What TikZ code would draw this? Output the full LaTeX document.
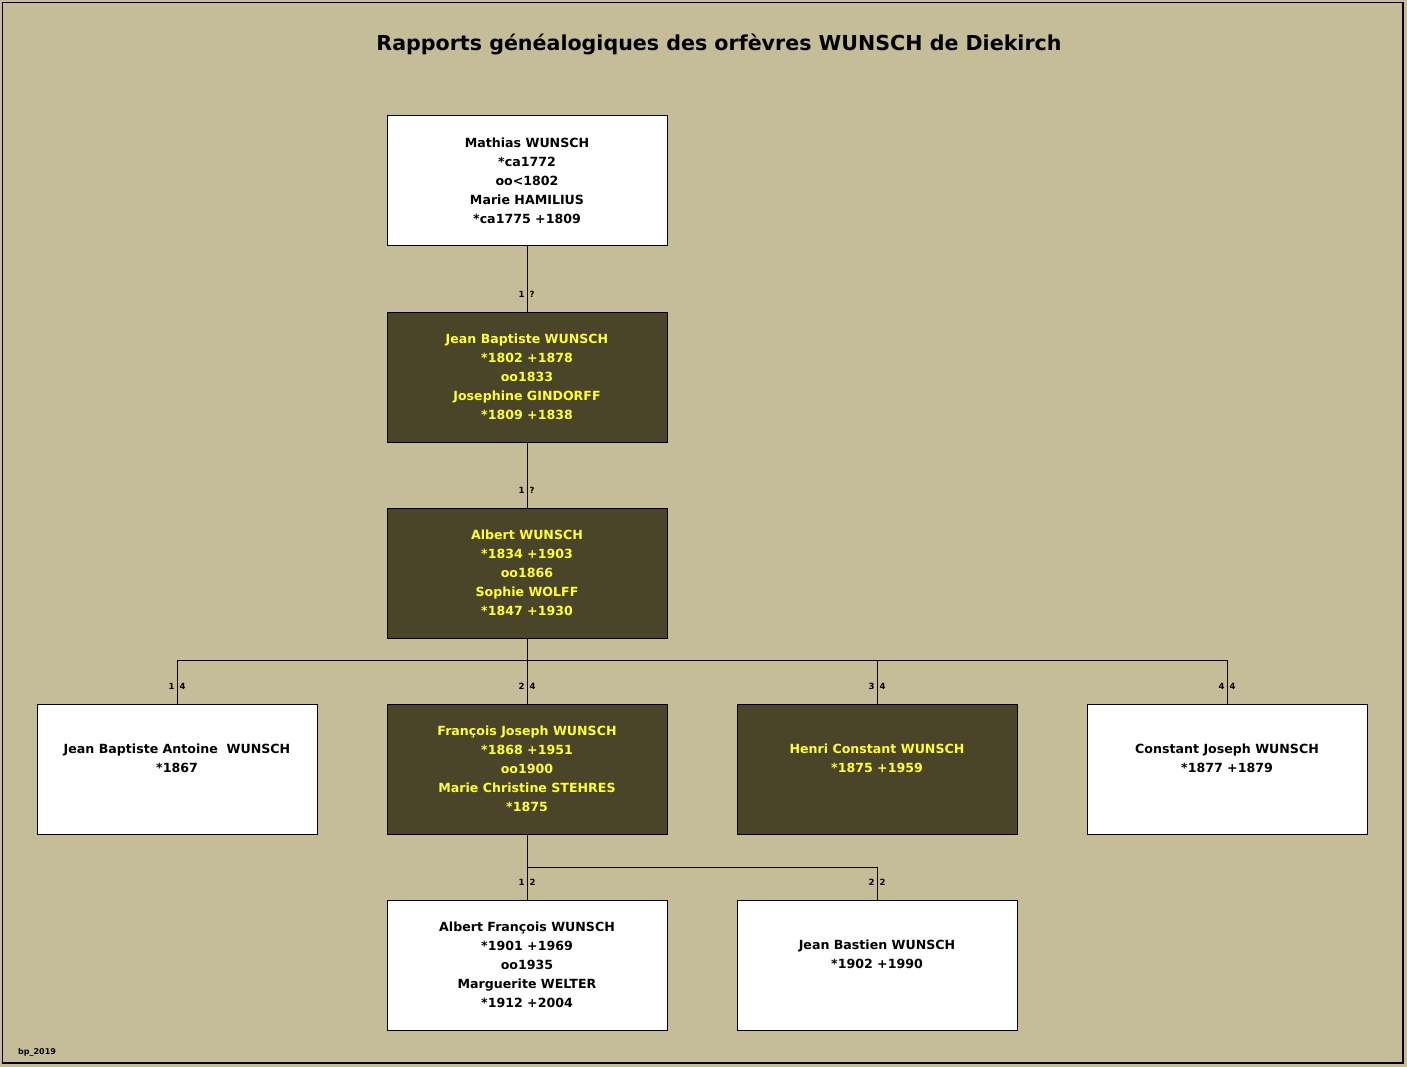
\documentclass[tikz,border=0pt]{standalone}
\usepackage{fontspec}
\setmainfont{DejaVu Sans}
\definecolor{bgtan}{HTML}{C5BD98}
\definecolor{darkbox}{HTML}{4A4429}
\definecolor{ytext}{HTML}{FFFF33}
\begin{document}
\begin{tikzpicture}[x=1pt,y=-1pt,
  wbox/.style={draw=black,line width=1pt,fill=white,minimum width=280pt,minimum height=130pt,inner sep=0pt,align=center,font=\bfseries\fontsize{12.6}{19}\selectfont,text=black},
  dbox/.style={wbox,fill=darkbox,text=ytext},
  lbl/.style={font=\bfseries\fontsize{8.5}{9}\selectfont,inner sep=2pt},
  conn/.style={draw=black,line width=1pt}]
\path[fill=bgtan] (0,0) rectangle (1407,1067);
\useasboundingbox (0,0) rectangle (1407,1067);
\draw[line width=1.2pt] (2.5,2.5) rectangle (1403,1063);
\node[font=\bfseries\fontsize{20.6}{24}\selectfont] (title) at (719,44) {Rapports généalogiques des orfèvres WUNSCH de Diekirch};
\node[font=\bfseries\fontsize{8}{9}\selectfont,anchor=west,inner sep=0pt] (bp) at (18,1052) {bp\_2019};

\node[wbox] (m) at (527,181) {Mathias WUNSCH\\*ca1772\\oo<1802\\Marie HAMILIUS\\*ca1775 +1809};
\node[dbox] (jb) at (527,377) {Jean Baptiste WUNSCH\\*1802 +1878\\oo1833\\Josephine GINDORFF\\*1809 +1838};
\node[dbox] (al) at (527,573) {Albert WUNSCH\\*1834 +1903\\oo1866\\Sophie WOLFF\\*1847 +1930};
\node[wbox] (c1) at (177,769) {Jean Baptiste Antoine\ \ WUNSCH\\*1867\\[-4pt]\strut};
\node[dbox] (c2) at (527,769) {François Joseph WUNSCH\\*1868 +1951\\oo1900\\Marie Christine STEHRES\\*1875};
\node[dbox] (c3) at (877,769) {Henri Constant WUNSCH\\*1875 +1959\\[-4pt]\strut};
\node[wbox] (c4) at (1227,769) {Constant Joseph WUNSCH\\*1877 +1879\\[-4pt]\strut};
\node[wbox] (g1) at (527,965) {Albert François WUNSCH\\*1901 +1969\\oo1935\\Marguerite WELTER\\*1912 +2004};
\node[wbox] (g2) at (877,965) {Jean Bastien WUNSCH\\*1902 +1990\\[-4pt]\strut};

\draw[conn] (m.south) -- (jb.north) node[pos=0.74,lbl,left]{1} node[pos=0.74,lbl,right]{?};
\draw[conn] (jb.south) -- (al.north) node[pos=0.74,lbl,left]{1} node[pos=0.74,lbl,right]{?};

\coordinate (bus) at (527,660);
\draw[conn] (al.south) -- (bus);
\draw[conn] (bus -| c1.north) -- (bus -| c4.north);
\foreach \n/\k in {c1/1,c2/2,c3/3,c4/4}{
  \draw[conn] (bus -| \n.north) -- (\n.north) node[pos=0.6,lbl,left]{\k} node[pos=0.6,lbl,right]{4};
}
\coordinate (bus2) at (527,867);
\draw[conn] (c2.south) -- (bus2) -- (bus2 -| g2.north);
\draw[conn] (bus2 -| g1.north) -- (g1.north) node[pos=0.47,lbl,left]{1} node[pos=0.47,lbl,right]{2};
\draw[conn] (bus2 -| g2.north) -- (g2.north) node[pos=0.47,lbl,left]{2} node[pos=0.47,lbl,right]{2};
\end{tikzpicture}
\end{document}
